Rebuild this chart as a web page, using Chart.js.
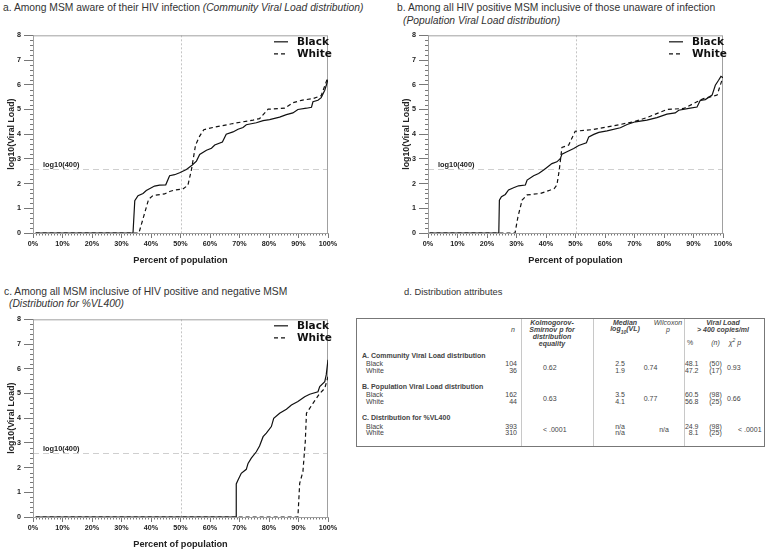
<!DOCTYPE html>
<html lang="en">
<head>
    <meta charset="UTF-8">
    <title>Viral load distributions, Black and White MSM</title>
    <script src="https://cdn.jsdelivr.net/npm/chart.js"></script>
    <style>
        body { margin: 0; width: 770px; height: 551px; overflow: hidden; background: #fff; position: relative;
               font-family: "Liberation Sans", Arial, sans-serif; color: #333; }
        .title { position: absolute; font-size: 10.3px; line-height: 11px; white-space: nowrap; }
        .panel { position: absolute; width: 345px; height: 242px; }
        #tbl { position: absolute; left: 356px; top: 318px; width: 409px; height: 129px; border: 1px solid #777;
               box-sizing: border-box; font-size: 7px; color: #444; }
        .cell { position: absolute; white-space: nowrap; line-height: 1; }
        .vline { position: absolute; top: 0; bottom: 0; width: 0; border-left: 1px solid #c8c8c8; }
    </style>
</head>
<body>
    <div class="title" style="left:3px;top:2px">a. Among MSM aware of their HIV infection <i>(Community Viral Load distribution)</i></div>
    <div class="title" style="left:397px;top:2px">b. Among all HIV positive MSM inclusive of those unaware of infection</div>
    <div class="title" style="left:403px;top:15px"><i>(Population Viral Load distribution)</i></div>
    <div class="title" style="left:4px;top:286px">c. Among all MSM inclusive of HIV positive and negative MSM</div>
    <div class="title" style="left:9px;top:298px"><i>(Distribution for %VL400)</i></div>
    <div class="title" style="left:404px;top:286px;font-size:9.4px">d. Distribution attributes</div>

    <div class="panel" style="left:0;top:28px"><canvas id="chartA" width="345" height="242"></canvas></div>
    <div class="panel" style="left:395px;top:28px"><canvas id="chartB" width="345" height="242"></canvas></div>
    <div class="panel" style="left:0;top:312px"><canvas id="chartC" width="345" height="242"></canvas></div>

    <div id="tbl"></div>

    <script>
        // panel a: community viral load (percent of population, log10 VL)
        const aBlackX = [0.9, 33.9, 34.5, 35.6, 37.3, 38.4, 41.2, 42.9, 45, 46.3, 48, 49.7, 52, 54, 55.4, 56.5, 58.8, 60.5, 61.6, 64.2, 65.5, 67.8, 69.5, 71.2, 72.3, 75.7, 78, 80.2, 83.6, 85.9, 88.1, 89.8, 92.7, 94.4, 94.9, 96.6, 97.7, 98.9, 100];
        const aBlackY = [0, 0, 1.31, 1.51, 1.6, 1.72, 1.9, 1.94, 1.95, 2.32, 2.36, 2.44, 2.57, 2.75, 2.91, 3.18, 3.35, 3.43, 3.56, 3.68, 4.0, 4.09, 4.2, 4.27, 4.38, 4.46, 4.55, 4.59, 4.69, 4.79, 4.86, 5.0, 5.05, 5.09, 5.31, 5.37, 5.48, 5.78, 6.2];
        const aWhiteX = [0.9, 35.9, 37.5, 39.2, 40.7, 44.6, 46.3, 48, 50.8, 52.5, 53.7, 55.1, 56.5, 57.9, 61, 67.8, 74.6, 76.8, 79.7, 85.3, 88.1, 91, 94.9, 97.7, 100];
        const aWhiteY = [0, 0, 0.66, 1.37, 1.52, 1.58, 1.68, 1.74, 1.78, 1.93, 2.55, 3.56, 3.92, 4.18, 4.27, 4.43, 4.57, 4.63, 5.01, 5.05, 5.27, 5.37, 5.44, 5.56, 6.32];

        // panel b: population viral load
        const bBlackX = [0.5, 24, 24.2, 24.9, 26.2, 27.3, 29, 30.7, 33, 33.6, 35.8, 37.5, 39.2, 40.3, 42, 43.7, 44.9, 45.4, 47.1, 49.4, 51.1, 53.7, 54.5, 56.2, 57.9, 60.7, 65.2, 67.5, 70.3, 74.2, 77.6, 81, 83.8, 85, 88.4, 91.2, 92.3, 94, 96.3, 97.4, 98.5, 99.3, 100];
        const bBlackY = [0, 0, 1.33, 1.47, 1.56, 1.74, 1.83, 1.91, 1.94, 2.14, 2.32, 2.41, 2.55, 2.65, 2.81, 2.88, 3.02, 3.19, 3.29, 3.42, 3.54, 3.65, 3.89, 3.99, 4.07, 4.13, 4.26, 4.39, 4.5, 4.57, 4.67, 4.81, 4.86, 4.97, 5.04, 5.1, 5.37, 5.4, 5.58, 5.98, 6.18, 6.34, 6.28];
        const bWhiteX = [0.5, 29.5, 30.5, 31.9, 33.6, 38.1, 41.5, 42.8, 43.7, 44.5, 45.4, 47.7, 49.9, 56.2, 62.9, 69.7, 74.2, 78.8, 81, 86.7, 91.2, 93.4, 95.7, 98, 100];
        const bWhiteY = [0, 0, 0.66, 1.33, 1.54, 1.6, 1.74, 1.8, 1.94, 2.55, 3.46, 3.56, 4.12, 4.19, 4.34, 4.5, 4.67, 4.89, 5.0, 5.04, 5.31, 5.44, 5.51, 5.58, 6.32];

        // panel c: %VL400, all MSM
        const cBlackX = [0.9, 68.9, 68.9, 69.5, 70.6, 72.3, 72.9, 74, 75.7, 76.8, 78, 79.1, 80.8, 81.6, 83.6, 85.9, 87.6, 89.8, 92.1, 93.8, 96.6, 97.2, 98.9, 99.4, 100];
        const cBlackY = [0, 0, 1.34, 1.5, 1.77, 1.93, 2.17, 2.38, 2.64, 2.87, 3.25, 3.39, 3.66, 3.99, 4.2, 4.36, 4.53, 4.67, 4.87, 4.97, 5.07, 5.28, 5.48, 5.75, 6.36];
        const cWhiteX = [0.9, 89.8, 90.4, 91.5, 92.3, 92.7, 94.9, 97.2, 98.9, 100];
        const cWhiteY = [0, 0, 1.36, 1.84, 3.05, 4.2, 4.6, 5.0, 5.21, 5.68];

        const refPct = 50;
        const refLog = Math.log10(400);
        const refLabel = 'log10(400)';

        // table d
        const groups = ['A. Community Viral Load distribution', 'B. Population Viral Load distribution', 'C. Distribution for %VL400'];
        const races = ['Black', 'White'];
        const nVals = [['104', '36'], ['162', '44'], ['393', '310']];
        const ksP = ['0.62', '0.63', '< .0001'];
        const medianVL = [['2.5', '1.9'], ['3.5', '4.1'], ['n/a', 'n/a']];
        const wilcoxonP = ['0.74', '0.77', 'n/a'];
        const pctVL400 = [['48.1', '47.2'], ['60.5', '56.8'], ['24.9', '8.1']];
        const nVL400 = [['(50)', '(17)'], ['(98)', '(25)'], ['(98)', '(25)']];
        const chiP = ['0.93', '0.66', '< .0001'];

        Chart.defaults.font.family = '"Liberation Sans", Arial, sans-serif';
        Chart.defaults.color = '#222';

        const decor = {
            id: 'decor',
            beforeDatasetsDraw(chart) {
                const { ctx, chartArea: a, scales: { x, y } } = chart;
                ctx.save();
                ctx.lineWidth = 1;
                // minor ticks
                ctx.strokeStyle = '#777';
                ctx.beginPath();
                for (let v = 1; v < 100; v++) {
                    if (v % 10 === 0) continue;
                    const px = Math.round(x.getPixelForValue(v)) + 0.5;
                    ctx.moveTo(px, a.bottom);
                    ctx.lineTo(px, a.bottom + 2.5);
                }
                for (let k = 1; k < 40; k++) {
                    if (k % 5 === 0) continue;
                    const py = Math.round(y.getPixelForValue(k / 5)) + 0.5;
                    ctx.moveTo(a.left, py);
                    ctx.lineTo(a.left - 3, py);
                }
                ctx.stroke();
                // reference lines
                const yr = Math.round(y.getPixelForValue(refLog)) + 0.5;
                ctx.strokeStyle = '#cfcfcf';
                ctx.setLineDash([6, 4]);
                ctx.beginPath();
                ctx.moveTo(a.left, yr);
                ctx.lineTo(a.right, yr);
                ctx.stroke();
                const xr = Math.round(x.getPixelForValue(refPct)) + 0.5;
                ctx.strokeStyle = '#c4c4c4';
                ctx.setLineDash([2, 2]);
                ctx.beginPath();
                ctx.moveTo(xr, a.top);
                ctx.lineTo(xr, a.bottom);
                ctx.stroke();
                ctx.setLineDash([]);
                ctx.fillStyle = '#222';
                ctx.font = 'bold 7.4px "Liberation Sans", Arial, sans-serif';
                ctx.textBaseline = 'alphabetic';
                ctx.fillText(refLabel, a.left + 10, yr - 3);
                // frame
                ctx.strokeStyle = '#a0a0a0';
                ctx.strokeRect(a.left + 0.5, a.top + 0.5, a.right - a.left - 1, a.bottom - a.top);
                ctx.restore();
            },
            afterDatasetsDraw(chart) {
                const { ctx, chartArea: a } = chart;
                ctx.save();
                ctx.font = 'bold 10.5px "DejaVu Sans", sans-serif';
                ctx.textBaseline = 'middle';
                chart.data.datasets.forEach((ds, i) => {
                    const ly = a.top + 6.5 + i * 12;
                    ctx.strokeStyle = ds.borderColor;
                    ctx.lineWidth = 1.2;
                    ctx.setLineDash(ds.borderDash || []);
                    ctx.beginPath();
                    ctx.moveTo(a.right - 54, ly);
                    ctx.lineTo(a.right - 40, ly);
                    ctx.stroke();
                    ctx.fillStyle = '#111';
                    ctx.fillText(ds.label, a.right - 31, ly);
                });
                ctx.restore();
            }
        };

        function toPoints(xs, ys) {
            return xs.map((x, i) => ({ x: x, y: ys[i] }));
        }

        function makePanel(id, blackX, blackY, whiteX, whiteY) {
            new Chart(document.getElementById(id), {
                type: 'line',
                data: {
                    datasets: [
                        { label: 'Black', data: toPoints(blackX, blackY), borderColor: '#111', borderWidth: 1.2, pointRadius: 0, tension: 0 },
                        { label: 'White', data: toPoints(whiteX, whiteY), borderColor: '#111', borderWidth: 1.2, borderDash: [4, 3], pointRadius: 0, tension: 0 }
                    ]
                },
                options: {
                    responsive: false,
                    animation: false,
                    layout: { padding: { top: 7, right: 17, left: 0, bottom: 0 } },
                    plugins: { legend: { display: false }, tooltip: { enabled: false } },
                    scales: {
                        x: {
                            type: 'linear', min: 0, max: 100,
                            ticks: { stepSize: 10, maxRotation: 0, padding: 2, callback: v => v + '%', font: { size: 7.2, weight: 'bold' } },
                            grid: { drawOnChartArea: false, tickLength: 5, color: '#777' },
                            border: { color: '#a0a0a0' },
                            title: { display: true, text: 'Percent of population', font: { size: 9.2, weight: 'bold' }, padding: { top: 0, bottom: 4 } },
                            afterFit: s => { s.height = 37; }
                        },
                        y: {
                            min: 0, max: 8,
                            ticks: { stepSize: 1, padding: 3, font: { size: 7.2, weight: 'bold' } },
                            grid: { drawOnChartArea: false, tickLength: 9, color: '#777' },
                            border: { color: '#a0a0a0' },
                            title: { display: true, text: 'log10(Viral Load)', font: { size: 8.8, weight: 'bold' }, padding: { top: 6, bottom: 0 } },
                            afterFit: s => { s.width = 33; }
                        }
                    }
                },
                plugins: [decor]
            });
        }

        makePanel('chartA', aBlackX, aBlackY, aWhiteX, aWhiteY);
        makePanel('chartB', bBlackX, bBlackY, bWhiteX, bWhiteY);
        makePanel('chartC', cBlackX, cBlackY, cWhiteX, cWhiteY);

        // table layout (page coordinates)
        const tbl = document.getElementById('tbl');
        const ox = 357, oy = 319;
        function cell(text, x, y, align, style) {
            const d = document.createElement('div');
            d.className = 'cell';
            d.innerHTML = text;
            d.style.left = (x - ox) + 'px';
            d.style.top = (y - oy) + 'px';
            const tx = align === 'center' ? '-50%' : align === 'right' ? '-100%' : '0';
            d.style.transform = 'translate(' + tx + ',-50%)';
            if (style) d.style.cssText += style;
            tbl.appendChild(d);
        }
        [521, 593, 684].forEach(x => {
            const v = document.createElement('div');
            v.className = 'vline';
            v.style.left = (x - ox) + 'px';
            tbl.appendChild(v);
        });

        const hb = 'font-weight:bold;font-style:italic;text-align:center;';
        cell('n', 513, 329, 'center', 'font-style:italic;');
        ['Kolmogorov-', 'Smirnov p for', 'distribution', 'equality'].forEach((t, i) => cell(t, 552, 322.3 + i * 6.8, 'center', hb));
        cell('Median', 625, 322.3, 'center', hb);
        cell('log<sub style="font-size:5px">10</sub>(VL)', 625, 329.5, 'center', hb);
        cell('Wilcoxon', 668, 322.3, 'center', 'font-style:italic;');
        cell('p', 668, 329.1, 'center', 'font-style:italic;');
        cell('Viral Load', 723, 322.3, 'center', hb);
        cell('&gt; 400 copies/ml', 723, 329.1, 'center', hb);
        cell('%', 690, 342, 'center');
        cell('(n)', 715.5, 342, 'center', 'font-style:italic;');
        cell('χ<sup style="font-size:5px">2</sup> p', 735, 342, 'center', 'font-style:italic;');

        const groupY = [355, 386, 417.3];
        groups.forEach((g, i) => {
            const gy = groupY[i];
            cell(g, 362, gy, 'left', 'font-weight:bold;');
            const midY = gy + 11.7;
            races.forEach((r, j) => {
                const ry = gy + 8.3 + j * 6.7;
                cell(r, 366, ry, 'left');
                cell(nVals[i][j], 517, ry, 'right');
                cell(medianVL[i][j], 620, ry, 'center');
                cell(pctVL400[i][j], 698.5, ry, 'right');
                cell(nVL400[i][j], 715.5, ry, 'center');
            });
            cell(ksP[i], 543, midY, 'left');
            cell(wilcoxonP[i], wilcoxonP[i] === 'n/a' ? 664 : 650.5, midY, 'center');
            cell(chiP[i], chiP[i].charAt(0) === '<' ? 738 : 727, midY, 'left');
        });
    </script>
</body>
</html>
